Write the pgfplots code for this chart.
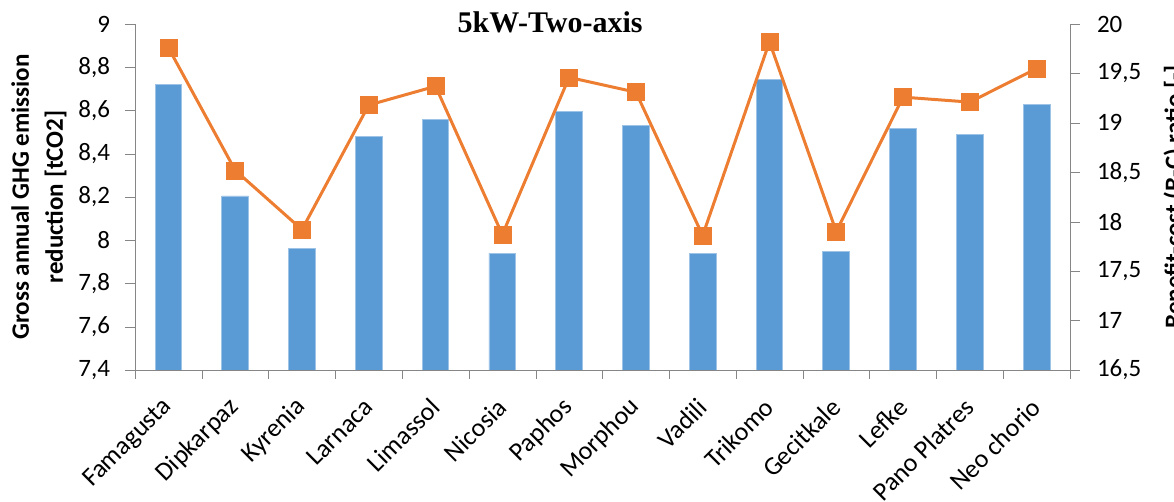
\documentclass[border=0pt]{standalone}
\usepackage{pgfplots}
\pgfplotsset{compat=1.18}
\usepackage{fontspec}
\setmainfont{Carlito}
\newfontfamily\titlefont{Liberation Serif}
\definecolor{barblue}{HTML}{5B9BD5}
\definecolor{lineorange}{HTML}{ED7D31}
\definecolor{axisgray}{HTML}{868686}

% GHG reduction (bars, left) and B-C ratio (line, right)
\pgfplotstableread{
x  ghg   bc
0  8.72  19.76
1  8.205 18.52
2  7.96  17.92
3  8.48  19.18
4  8.56  19.37
5  7.94  17.87
6  8.595 19.46
7  8.53  19.31
8  7.94  17.86
9  8.745 19.82
10 7.95  17.90
11 8.515 19.26
12 8.49  19.21
13 8.63  19.55
}\data

\begin{document}
\begin{tikzpicture}
\pgfplotsset{
  common/.style={
    scale only axis, width=467.5pt, height=173pt,
    xmin=-0.5, xmax=13.5,
    tick align=outside,
    tick label style={font=\fontsize{12.5}{14}\selectfont},
    /pgf/number format/.cd, use comma, fixed, assume math mode=true,
  },
}
\begin{axis}[common,
  clip mode=individual,
  axis x line*=bottom, axis y line*=left,
  axis line style={axisgray},
  ymin=7.4, ymax=9, ytick={7.4,7.6,...,9.01},
  ytick style={axisgray}, major tick length=5pt,
  yticklabel style={xshift=-4pt},
  xtick={0,...,13},
  xticklabels={Famagusta,Dipkarpaz,Kyrenia,Larnaca,Limassol,Nicosia,Paphos,Morphou,Vadili,Trikomo,Gecitkale,Lefke,Pano Platres,Neo chorio},
  major x tick style={draw=none},
  minor xtick={-0.5,0.5,...,13.5},
  minor x tick style={axisgray}, minor tick length=4.5pt,
  xticklabel style={rotate=45, anchor=east, inner sep=0pt, font=\fontsize{13}{15}\selectfont},
  xticklabel shift=11.5pt,
  ylabel={Gross annual GHG emission\\reduction [tCO2]},
  ylabel style={font=\bfseries\fontsize{12.5}{17}\selectfont, align=center,
    at={(rel axis cs:-0.1027,0.5)}, anchor=center},
]
\addplot[ybar, bar width=0.4, fill=barblue, draw=barblue!60!white, line width=0.4pt]
  table[x=x, y=ghg] {\data};
\node[anchor=base, font=\titlefont\bfseries\fontsize{15}{17}\selectfont]
  at (rel axis cs:0.444,0.974) {5kW-Two-axis};
\end{axis}
\begin{axis}[common,
  axis y line*=right, axis x line=none,
  axis line style={axisgray},
  ymin=16.5, ymax=20, ytick={16.5,17,...,20},
  ytick style={axisgray}, major tick length=5pt,
  yticklabel style={xshift=5pt},
  ylabel={Benefit-cost (B-C) ratio [-]},
  ylabel style={font=\bfseries\fontsize{12.5}{15}\selectfont,
    at={(rel axis cs:1.112,0.5)}, anchor=center},
]
\addplot[lineorange, line width=1.5pt, mark=square*, mark size=4.25pt,
  mark options={fill=lineorange, draw=lineorange, line width=0.3pt}]
  table[x=x, y=bc] {\data};
\end{axis}
\pgfresetboundingbox
\path[use as bounding box] (-67.5pt,-66pt) rectangle (519.5pt,185pt);
\end{tikzpicture}
\end{document}
